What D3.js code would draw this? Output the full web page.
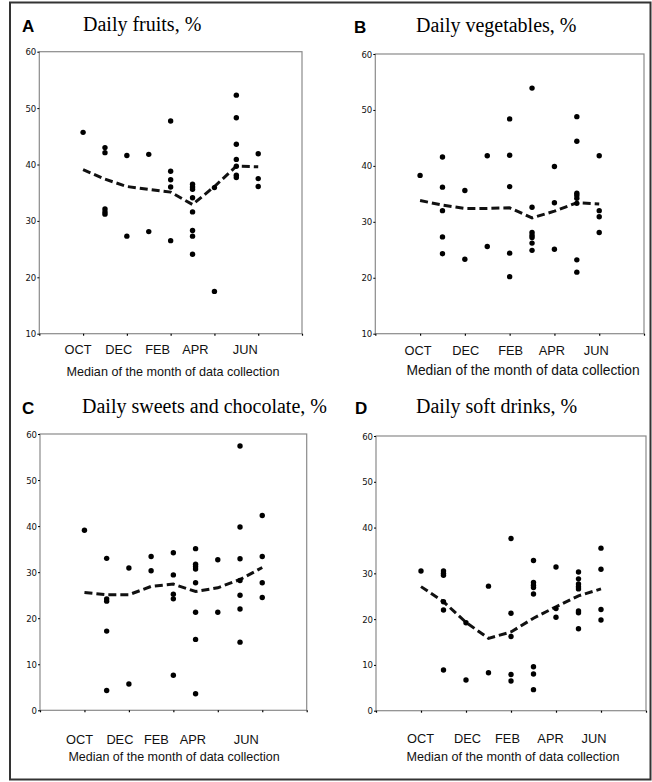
<!DOCTYPE html>
<html>
<head>
<meta charset="utf-8">
<script src="https://cdn.jsdelivr.net/npm/d3@7"></script>
<style>
  html, body { margin: 0; padding: 0; background: #fff; }
  svg { display: block; }
</style>
</head>
<body>
<svg id="chart" width="652" height="782"></svg>
<script>
// ---------- DATA ----------
const months = ["OCT", "NOV", "DEC", "JAN", "FEB", "MAR", "APR", "MAY", "JUN"];
const monthIndex = [2, 3, 4, 5, 6, 7, 8, 9, 10];       // months after August
const xTickValues = [0, 2, 4, 6, 8, 10, 12];
const xTickLabels = ["OCT", "DEC", "FEB", "APR", "JUN"];
const xTickLabelIndex = [2, 4, 6, 8, 10];
const yTicksA = [10, 20, 30, 40, 50, 60];
const yTicksC = [0, 10, 20, 30, 40, 50, 60];

const fruits = [
  [45.7],
  [43.0, 42.1, 32.1, 31.6, 31.2],
  [41.6, 27.3],
  [41.8, 28.1],
  [47.7, 38.8, 37.3, 36.0, 26.5],
  [36.5, 36.0, 35.6, 34.1, 31.6, 28.3, 27.3, 24.1],
  [35.9, 17.5],
  [52.3, 48.3, 43.6, 40.9, 39.7, 38.1, 37.7],
  [41.9, 37.5, 36.1]
];
const fruitsTrend = [39.1, 37.4, 36.1, 35.6, 35.1, 32.9, 36.1, 39.7, 39.6];

const vegetables = [
  [38.3],
  [41.6, 36.2, 32.0, 27.3, 24.3],
  [35.6, 23.3],
  [41.8, 25.6],
  [48.4, 41.9, 36.3, 24.4, 20.2],
  [53.9, 32.6, 28.1, 27.6, 27.2, 26.2, 24.9],
  [39.9, 33.4, 25.1],
  [48.8, 44.4, 35.1, 34.7, 34.2, 33.3, 23.2, 21.0],
  [41.8, 32.0, 30.9, 28.1]
];
const vegetablesTrend = [33.8, 33.0, 32.4, 32.4, 32.5, 30.7, 31.9, 33.4, 33.2];

const sweets = [
  [39.1],
  [33.0, 24.2, 23.7, 17.2, 4.3],
  [30.9, 5.7],
  [33.4, 30.3],
  [34.2, 29.4, 25.2, 24.2, 7.6],
  [35.1, 31.7, 31.2, 30.7, 27.7, 21.3, 15.4, 3.6],
  [32.7, 21.3],
  [57.4, 39.8, 32.9, 28.2, 25.0, 22.0, 14.8],
  [42.3, 33.4, 27.7, 24.5]
];
const sweetsTrend = [25.6, 25.1, 25.1, 26.9, 27.4, 25.8, 26.6, 28.4, 31.0];

const softDrinks = [
  [30.5],
  [30.5, 30.0, 29.6, 23.8, 22.0, 8.9],
  [19.2, 6.7],
  [27.2, 8.3],
  [37.6, 21.3, 16.2, 7.9, 6.5],
  [32.8, 28.0, 27.4, 26.9, 25.5, 9.6, 8.0, 4.6],
  [31.4, 22.3, 20.4],
  [30.3, 28.8, 27.7, 27.1, 26.6, 21.8, 21.4, 17.9],
  [35.5, 30.9, 22.1, 19.8]
];
const softDrinksTrend = [27.1, 23.8, 19.3, 15.8, 17.2, 20.2, 22.7, 25.1, 26.6];

const panelLetters = ["A", "B", "C", "D"];
const panelTitles = ["Daily fruits, %", "Daily vegetables, %", "Daily sweets and chocolate, %", "Daily soft drinks, %"];
const xAxisTitle = "Median of the month of data collection";

// ---------- LAYOUT ----------
const layouts = [
  { data: fruits, trend: fruitsTrend, yDomain: [10, 60], yTicks: yTicksA,
    l: 39.3, r: 302, t: 51.7, b: 333.7, letterX: 22, titleX: 83, titleY: 31,
    monthY: 354, xtY: 376, xtX: 173, xtSize: 12.6, off: [-5, -8, -13, -19, -13] },
  { data: vegetables, trend: vegetablesTrend, yDomain: [10, 60], yTicks: yTicksA,
    l: 375.3, r: 644, t: 54, b: 333.7, letterX: 354, titleX: 416, titleY: 32,
    monthY: 355, xtY: 375, xtX: 523, xtSize: 13.8, off: [-2, 1, 1, -2.5, -3] },
  { data: sweets, trend: sweetsTrend, yDomain: [0, 60], yTicks: yTicksC,
    l: 40, r: 306.7, t: 434, b: 710.3, letterX: 22, titleX: 82, titleY: 413,
    monthY: 744, xtY: 761, xtX: 174, xtSize: 12.5, off: [-5, -9, -17, -25, -16] },
  { data: softDrinks, trend: softDrinksTrend, yDomain: [0, 60], yTicks: yTicksC,
    l: 376, r: 646, t: 436, b: 710.7, letterX: 355, titleX: 416, titleY: 413,
    monthY: 743, xtY: 761, xtX: 513, xtSize: 12.6, off: [-0.5, 1.5, -3.5, -5.5, -7] }
];

const svg = d3.select("#chart");
const sansFont = "'Liberation Sans', Arial, sans-serif";
const narrowFont = "'Liberation Sans Narrow', 'Arial Narrow', 'DejaVu Sans Condensed', sans-serif";
const serifFont = "'Liberation Serif', 'Times New Roman', serif";

// outer frame
svg.append("rect")
  .attr("x", 10).attr("y", 2.5).attr("width", 640.5).attr("height", 777)
  .attr("fill", "none").attr("stroke", "#333").attr("stroke-width", 2);

layouts.forEach((p, i) => {
  const g = svg.append("g");
  const x = d3.scaleLinear().domain([0, 12]).range([p.l, p.r]);
  const y = d3.scaleLinear().domain(p.yDomain).range([p.b, p.t]);

  // letter and title
  g.append("text").attr("x", p.letterX).attr("y", p.titleY + 1)
    .attr("font-family", sansFont).attr("font-weight", "bold").attr("font-size", 17)
    .text(panelLetters[i]);
  g.append("text").attr("x", p.titleX).attr("y", p.titleY)
    .attr("font-family", serifFont).attr("font-size", 20)
    .text(panelTitles[i]);

  // plot frame
  g.append("rect")
    .attr("x", p.l).attr("y", p.t).attr("width", p.r - p.l).attr("height", p.b - p.t)
    .attr("fill", "none").attr("stroke", "#8a8a8a").attr("stroke-width", 1.2);

  // y axis
  const yAxis = g.append("g").attr("transform", `translate(${p.l},0)`)
    .call(d3.axisLeft(y).tickValues(p.yTicks).tickSize(2).tickPadding(1));
  yAxis.select(".domain").remove();
  yAxis.selectAll(".tick line").attr("stroke", "#000");
  yAxis.selectAll(".tick text").attr("font-family", narrowFont).attr("font-size", 9.5).attr("fill", "#111");

  // x axis ticks
  const xAxis = g.append("g").attr("transform", `translate(0,${p.b})`)
    .call(d3.axisBottom(x).tickValues(xTickValues).tickSize(2).tickFormat(""));
  xAxis.select(".domain").remove();
  xAxis.selectAll(".tick line").attr("stroke", "#000").attr("stroke-width", 1.2);

  // month labels
  g.selectAll(".mlab").data(xTickLabels).enter().append("text")
    .attr("x", (d, k) => x(xTickLabelIndex[k]) + p.off[k])
    .attr("y", p.monthY)
    .attr("text-anchor", "middle")
    .attr("font-family", sansFont).attr("font-size", 12.8).attr("fill", "#111")
    .text(d => d);

  g.append("text").attr("x", p.xtX).attr("y", p.xtY)
    .attr("text-anchor", "middle")
    .attr("font-family", sansFont).attr("font-size", p.xtSize).attr("fill", "#111")
    .text(xAxisTitle);

  // trend line
  const line = d3.line().x((d, k) => x(monthIndex[k])).y(d => y(d));
  g.append("path").datum(p.trend)
    .attr("d", line)
    .attr("fill", "none").attr("stroke", "#111").attr("stroke-width", 3)
    .attr("stroke-dasharray", "8,4");

  // points
  const pts = [];
  p.data.forEach((vals, k) => vals.forEach(v => pts.push({ m: monthIndex[k], v })));
  g.selectAll(".pt").data(pts).enter().append("circle")
    .attr("cx", d => x(d.m)).attr("cy", d => y(d.v)).attr("r", 2.7)
    .attr("fill", "#000");
});
</script>
</body>
</html>
